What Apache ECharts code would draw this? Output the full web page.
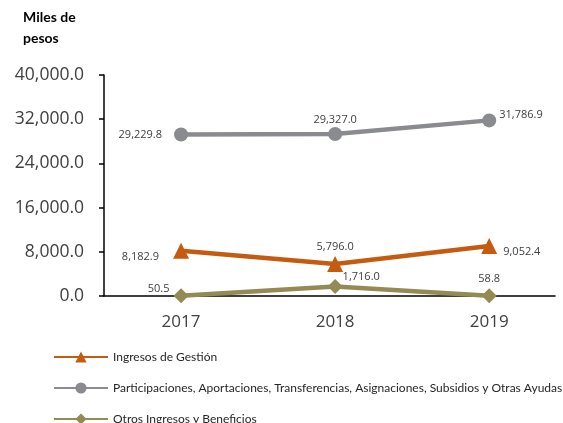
<!DOCTYPE html>
<html><head><meta charset="utf-8">
<script src="https://cdn.jsdelivr.net/npm/echarts@6/dist/echarts.min.js"></script>
<style>html,body{margin:0;padding:0;background:#fff}#c{width:563px;height:423px}</style>
</head><body><div id="c"></div>
<script>
const categories = ['2017', '2018', '2019'];
const seriesNames = ['Ingresos de Gestión', 'Participaciones, Aportaciones, Transferencias, Asignaciones, Subsidios y Otras Ayudas', 'Otros Ingresos y Beneficios'];
const ingresosGestion = [8182.9, 5796.0, 9052.4];
const participaciones = [29229.8, 29327.0, 31786.9];
const otrosIngresos = [50.5, 1716.0, 58.8];
const yTicks = [0, 8000, 16000, 24000, 32000, 40000];

const years = categories.map(Number);
const fmt = v => Number(v).toLocaleString('en-US', {minimumFractionDigits: 1, maximumFractionDigits: 1});

const lblBase = {show: true, fontFamily: 'Open Sans', fontSize: 11, color: '#404040', formatter: p => fmt(p.value[1])};
function lbl(arr, cfgs) {
  return arr.map((v, i) => ({value: [years[i], v], label: Object.assign({}, lblBase, cfgs[i])}));
}

const chart = echarts.init(document.getElementById('c'), null, {renderer: 'canvas'});
chart.setOption({
  animation: false,
  backgroundColor: '#fff',
  title: {text: 'Miles de\npesos', left: 18, top: 2, textStyle: {fontFamily: 'Lato', fontWeight: 'bold', fontSize: 14, color: '#000', lineHeight: 21}},
  grid: {left: 104, right: 8, top: 75, bottom: 127},
  legend: {
    orient: 'vertical', left: 53, top: 350, height: 110, padding: 0, itemGap: 17, itemWidth: 54, itemHeight: 14,
    textStyle: {fontFamily: 'Lato', fontSize: 12, color: '#262626', lineHeight: 14},
    data: seriesNames
  },
  xAxis: {
    type: 'value', min: 2016.5, max: 2019.427,
    splitLine: {show: false},
    axisLine: {show: true, lineStyle: {color: '#000', width: 1.5}},
    axisTick: {show: false},
    axisLabel: {customValues: years, formatter: v => String(v), fontFamily: 'Open Sans', fontSize: 17, color: '#404040', margin: 18}
  },
  yAxis: {
    type: 'value', min: 0, max: 40000, interval: 8000,
    splitLine: {show: false},
    axisLine: {show: true, lineStyle: {color: '#000', width: 1.5}},
    axisTick: {show: true, length: 5, lineStyle: {color: '#000', width: 1.5}},
    axisLabel: {customValues: yTicks, formatter: v => fmt(v), fontFamily: 'Open Sans', fontSize: 17.5, color: '#404040', margin: 20}
  },
  series: [
    {
      name: seriesNames[0], type: 'line', symbol: 'triangle', symbolSize: 16,
      itemStyle: {color: '#C55A11'}, lineStyle: {color: '#C55A11', width: 4.5},
      data: lbl(ingresosGestion, [
        {position: 'left', distance: 14, offset: [0, 6]},
        {position: 'top', distance: 4},
        {position: 'right', distance: 6, offset: [0, 6]}
      ]), z: 3
    },
    {
      name: seriesNames[1], type: 'line', symbol: 'circle', symbolSize: 14,
      itemStyle: {color: '#8A8B8F'}, lineStyle: {color: '#8A8B8F', width: 4.5},
      data: lbl(participaciones, [
        {position: 'left', distance: 12},
        {position: 'top', distance: 2},
        {position: 'right', distance: 3, offset: [0, -6]}
      ]), z: 2
    },
    {
      name: seriesNames[2], type: 'line', symbol: 'diamond', symbolSize: 15,
      itemStyle: {color: '#948A54'}, lineStyle: {color: '#948A54', width: 4.5},
      data: lbl(otrosIngresos, [
        {position: 'left', distance: 4, offset: [0, -7]},
        {position: 'right', distance: 0, offset: [0, -10]},
        {position: 'top', distance: 4}
      ]), z: 4
    }
  ]
});
</script></body></html>
